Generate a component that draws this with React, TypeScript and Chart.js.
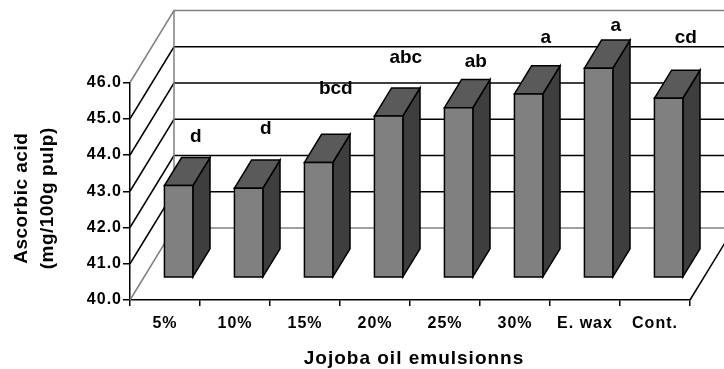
import React, { useEffect, useRef } from 'react';
import { Chart, registerables } from 'chart.js';

Chart.register(...registerables);

// ---- data ----
const categories = ['5%', '10%', '15%', '20%', '25%', '30%', 'E. wax', 'Cont.'];
const ascorbicAcid = [42.54, 42.47, 43.18, 44.46, 44.69, 45.07, 45.78, 44.95];
const significanceLetters = ['d', 'd', 'bcd', 'abc', 'ab', 'a', 'a', 'cd'];
const letterLevels = [42.97, 43.19, 44.29, 45.15, 45.04, 45.7, 46.04, 45.7];
const yTickValues = [40, 41, 42, 43, 44, 45, 46];
const yTitleLines = ['Ascorbic acid', '(mg/100g pulp)'];
const xTitleText = 'Jojoba oil emulsionns';

// ---- 3D look (styles, not data) ----
const DEPTH_X = 44;
const DEPTH_Y = 72;
const BAR_FRONT = 0.31;
const BAR_BACK = 0.7;
const WALL_GREY = '#808080';
const FACE_FRONT = '#808080';
const FACE_TOP = '#5a5a5a';
const FACE_SIDE = '#3e3e3e';
const FONT = '"Liberation Sans", Arial, sans-serif';

function poly(ctx: CanvasRenderingContext2D, pts: number[][], fill: string) {
  ctx.beginPath();
  ctx.moveTo(pts[0][0], pts[0][1]);
  for (let i = 1; i < pts.length; i++) ctx.lineTo(pts[i][0], pts[i][1]);
  ctx.closePath();
  ctx.fillStyle = fill;
  ctx.fill();
  ctx.stroke();
}

const box3d = {
  id: 'box3d',
  beforeDraw(chart: any) {
    (chart.ctx as any).letterSpacing = '1px';
  },
  beforeDatasetsDraw(chart: any) {
    const { ctx, chartArea: a, scales } = chart;
    const y = scales.y;
    ctx.save();
    (ctx as any).letterSpacing = '0px';
    ctx.lineWidth = 1.5;
    ctx.lineJoin = 'miter';
    const minV = yTickValues[0];
    const maxV = yTickValues[yTickValues.length - 1];
    // side wall diagonals + back wall grid lines
    yTickValues.forEach((v) => {
      const py = y.getPixelForValue(v);
      const edge = v === minV || v === maxV;
      ctx.strokeStyle = edge ? WALL_GREY : '#000';
      ctx.beginPath();
      ctx.moveTo(a.left, py);
      ctx.lineTo(a.left + DEPTH_X, py - DEPTH_Y);
      ctx.lineTo(a.right + DEPTH_X, py - DEPTH_Y);
      ctx.stroke();
    });
    // back wall left edge
    ctx.strokeStyle = WALL_GREY;
    ctx.beginPath();
    ctx.moveTo(a.left + DEPTH_X, y.getPixelForValue(maxV) - DEPTH_Y);
    ctx.lineTo(a.left + DEPTH_X, y.getPixelForValue(minV) - DEPTH_Y);
    ctx.stroke();
    // floor right edge
    ctx.strokeStyle = '#000';
    ctx.beginPath();
    ctx.moveTo(a.right, a.bottom);
    ctx.lineTo(a.right + DEPTH_X, a.bottom - DEPTH_Y);
    ctx.stroke();

    // bars as 3D boxes
    const meta = chart.getDatasetMeta(0);
    const fx = DEPTH_X * BAR_FRONT;
    const fy = DEPTH_Y * BAR_FRONT;
    const dx = DEPTH_X * (BAR_BACK - BAR_FRONT);
    const dy = DEPTH_Y * (BAR_BACK - BAR_FRONT);
    const basePx = y.getPixelForValue(minV);
    ctx.strokeStyle = '#000';
    meta.data.forEach((el: any) => {
      const p = el.getProps(['x', 'y', 'base', 'width'], true);
      const l = p.x - p.width / 2 + fx;
      const r = p.x + p.width / 2 + fx;
      const t = p.y - fy;
      const b = Math.min(p.base, basePx) - fy;
      poly(ctx, [[r, t], [r + dx, t - dy], [r + dx, b - dy], [r, b]], FACE_SIDE);
      poly(ctx, [[l, t], [r, t], [r + dx, t - dy], [l + dx, t - dy]], FACE_TOP);
      poly(ctx, [[l, t], [r, t], [r, b], [l, b]], FACE_FRONT);
    });
    ctx.restore();
    return false;
  },
  afterDraw(chart: any) {
    const { ctx, chartArea: a, scales } = chart;
    const x = scales.x;
    const y = scales.y;
    ctx.save();
    ctx.fillStyle = '#000';
    // significance letters
    (ctx as any).letterSpacing = '0px';
    ctx.font = `bold 19px ${FONT}`;
    ctx.textAlign = 'center';
    ctx.textBaseline = 'alphabetic';
    significanceLetters.forEach((s, i) => {
      const px = x.getPixelForValue(i) + DEPTH_X * BAR_BACK;
      const py = y.getPixelForValue(letterLevels[i]) - DEPTH_Y * BAR_BACK;
      ctx.fillText(s, px, py);
    });
    // x title
    (ctx as any).letterSpacing = '1px';
    ctx.font = `bold 19px ${FONT}`;
    ctx.fillText(xTitleText, (a.left + a.right) / 2 + 4, 364);
    // y title
    (ctx as any).letterSpacing = '0.5px';
    const cy = (a.top + a.bottom) / 2 + 7;
    const baselines = [27.3, 52.6];
    yTitleLines.forEach((line, i) => {
      ctx.save();
      ctx.translate(baselines[i], cy);
      ctx.rotate(-Math.PI / 2);
      ctx.fillText(line, 0, 0);
      ctx.restore();
    });
    ctx.restore();
  },
};

export default function App() {
  const ref = useRef<HTMLCanvasElement | null>(null);
  useEffect(() => {
    if (!ref.current) return;
    Chart.defaults.font.family = FONT;
    Chart.defaults.color = '#000';
    const chart = new Chart(ref.current, {
      type: 'bar',
      data: {
        labels: categories,
        datasets: [
          {
            label: 'Ascorbic acid',
            data: ascorbicAcid,
            base: yTickValues[0],
            backgroundColor: FACE_FRONT,
            borderColor: '#000',
            borderWidth: 1.5,
            categoryPercentage: 1,
            barPercentage: 0.406,
          },
        ],
      },
      options: {
        animation: false,
        responsive: false,
        devicePixelRatio: 1,
        layout: { padding: { top: 82.5, right: 34, left: 0, bottom: 0 } },
        plugins: { legend: { display: false }, tooltip: { enabled: false }, title: { display: false } },
        scales: {
          x: {
            grid: { drawOnChartArea: false, drawTicks: true, tickLength: 6, color: '#000', lineWidth: 1.5, offset: true },
            border: { display: true, color: '#000', width: 1.5 },
            ticks: { font: { size: 16, weight: 'bold' }, padding: 8, color: '#000', maxRotation: 0, autoSkip: false },
            afterFit: (s: any) => {
              s.height = 69;
            },
          },
          y: {
            min: 40,
            max: 46,
            grid: { drawOnChartArea: false, drawTicks: true, tickLength: 7, color: '#000', lineWidth: 1.5 },
            border: { display: true, color: '#000', width: 1.5 },
            ticks: {
              stepSize: 1,
              padding: 1,
              font: { size: 16, weight: 'bold' },
              color: '#000',
              callback: (v: any) => Number(v).toFixed(1),
            },
            afterFit: (s: any) => {
              s.width = 130;
            },
          },
        },
      },
      plugins: [box3d],
    });
    return () => chart.destroy();
  }, []);
  return (
    <div style={{ position: 'absolute', left: 0, top: 0, width: 724, height: 369, background: '#fff' }}>
      <canvas ref={ref} width={724} height={369} />
    </div>
  );
}
